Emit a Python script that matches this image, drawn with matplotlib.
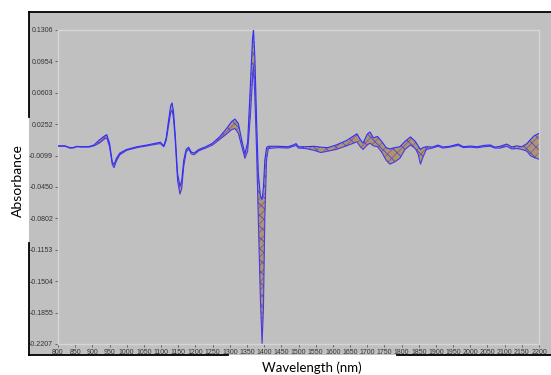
import numpy as np
import matplotlib
matplotlib.use('Agg')
import matplotlib.pyplot as plt
from matplotlib.lines import Line2D
from matplotlib.patches import Rectangle

# longitudes de onda (nm) y envolventes
wavelength = [800, 820, 835, 845, 855, 870, 890, 905, 920, 935, 942, 950, 958, 963, 970,
              980, 1000, 1030, 1060, 1085, 1098, 1108, 1115, 1122, 1128, 1132, 1136, 1141,
              1148, 1155, 1160, 1166, 1173, 1180, 1188, 1196, 1210, 1230, 1250, 1270, 1290,
              1305, 1315, 1325, 1335, 1344, 1352, 1360, 1366, 1369, 1373, 1378, 1383, 1389,
              1394, 1398, 1402, 1407, 1412, 1440, 1470, 1485, 1493, 1500, 1520, 1545, 1565,
              1585, 1610, 1640, 1660, 1670, 1680, 1688, 1700, 1708, 1718, 1730, 1742, 1755,
              1766, 1780, 1795, 1810, 1826, 1840, 1848, 1855, 1862, 1872, 1890, 1906, 1920,
              1940, 1965, 1980, 2000, 2020, 2040, 2058, 2072, 2087, 2106, 2121, 2135, 2150,
              2165, 2175, 2185, 2200]

upper = [0.0010, 0.0010, -0.0010, -0.0008, 0.0004, 0.0000, 0.0002, 0.0020, 0.0075, 0.0120,
         0.0135, 0.0040, -0.0170, -0.0200, -0.0130, -0.0070, -0.0030, 0.0000, 0.0020, 0.0040,
         0.0050, 0.0010, 0.0100, 0.0300, 0.0460, 0.0490, 0.0400, 0.0150, -0.0300, -0.0440,
         -0.0380, -0.0150, -0.0030, -0.0005, -0.0060, -0.0070, -0.0030, 0.0000, 0.0040, 0.0110,
         0.0200, 0.0280, 0.0310, 0.0260, 0.0070, -0.0080, 0.0050, 0.0700, 0.1200, 0.1310,
         0.1000, 0.0300, -0.0300, -0.0550, -0.0590, -0.0450, -0.0150, -0.0010, 0.0005, 0.0005,
         0.0000, 0.0020, 0.0035, 0.0000, 0.0000, 0.0005, -0.0005, -0.0010, 0.0020, 0.0070,
         0.0120, 0.0145, 0.0080, 0.0040, 0.0140, 0.0165, 0.0100, 0.0115, 0.0060, -0.0010,
         -0.0025, -0.0010, 0.0000, 0.0060, 0.0110, 0.0060, 0.0010, -0.0030, -0.0010, 0.0000,
         -0.0003, 0.0019, -0.0003, 0.0005, 0.0030, 0.0000, 0.0008, 0.0000, 0.0015, 0.0020,
         -0.0005, 0.0005, 0.0030, -0.0003, 0.0010, 0.0000, 0.0035, 0.0080, 0.0120, 0.0150]

lower = [0.0006, 0.0006, -0.0016, -0.0014, 0.0000, -0.0004, -0.0004, 0.0010, 0.0040, 0.0085,
         0.0100, 0.0000, -0.0200, -0.0235, -0.0160, -0.0090, -0.0040, -0.0010, 0.0010, 0.0028,
         0.0035, 0.0000, 0.0070, 0.0240, 0.0380, 0.0410, 0.0320, 0.0080, -0.0380, -0.0530,
         -0.0470, -0.0220, -0.0060, -0.0025, -0.0080, -0.0090, -0.0045, -0.0015, 0.0020, 0.0080,
         0.0140, 0.0190, 0.0205, 0.0150, 0.0000, -0.0130, -0.0050, 0.0350, 0.0750, 0.0900,
         0.0550, -0.0050, -0.0800, -0.1700, -0.2200, -0.1800, -0.0800, -0.0150, -0.0020, -0.0010,
         -0.0015, 0.0005, 0.0015, -0.0015, -0.0020, -0.0040, -0.0065, -0.0050, -0.0030, 0.0010,
         0.0040, 0.0055, 0.0000, -0.0030, 0.0020, 0.0040, 0.0010, 0.0000, -0.0060, -0.0150,
         -0.0195, -0.0170, -0.0130, -0.0030, 0.0020, -0.0020, -0.0080, -0.0195, -0.0120, -0.0030,
         -0.0015, 0.0005, -0.0015, -0.0005, 0.0015, -0.0010, -0.0005, -0.0012, 0.0000, 0.0005,
         -0.0015, -0.0015, 0.0005, -0.0025, -0.0020, -0.0030, -0.0050, -0.0100, -0.0120, -0.0140]

y_ticks = [0.1306, 0.0954, 0.0603, 0.0252, -0.0099, -0.0450, -0.0802, -0.1153, -0.1504, -0.1855, -0.2207]
y_tick_labels = ['0.1306', '0.0954', '0.0603', '0.0252', '-0.0099', '-0.0450', '-0.0802',
                 '-0.1153', '-0.1504', '-0.1855', '-0.2207']
x_ticks = list(range(800, 2201, 50))

W, H = 551, 375

def fx(px):
    return px / W

def fy(py):
    return 1 - py / H

plt.rcParams['font.family'] = ['Liberation Sans', 'DejaVu Sans']
plt.rcParams['hatch.linewidth'] = 0.5

fig = plt.figure(figsize=(W / 100, H / 100), dpi=100)
fig.patch.set_facecolor('white')

# panel gris del software
fig.patches.append(Rectangle((fx(29), fy(355)), fx(551) - fx(29), fy(12) - fy(355),
                             transform=fig.transFigure, facecolor='#c0c0c0',
                             edgecolor='none', zorder=-2))
# borde negro con huecos donde van las etiquetas
for (x0, y0, x1, y1) in [(29, 12, 551, 12), (29, 12, 29, 117), (29, 243, 29, 355),
                         (29, 355, 228, 355), (397, 355, 551, 355)]:
    fig.lines.append(Line2D([fx(x0), fx(x1)], [fy(y0), fy(y1)], transform=fig.transFigure,
                            color='black', linewidth=1.3, zorder=-1))

ax = fig.add_axes([fx(58), fy(344), fx(539) - fx(58), fy(30) - fy(344)])
ax.set_zorder(2)
ax.set_facecolor('#c0c0c0')

# banda de todos los espectros (textura de colores mezclados)
ax.fill_between(wavelength, lower, upper, facecolor='#a39a74', edgecolor='#c0309a',
                hatch='////', linewidth=0, zorder=2)
ax.fill_between(wavelength, lower, upper, facecolor='none', edgecolor='#3a3ad8',
                hatch='\\\\\\', linewidth=0, zorder=2)
ax.plot(wavelength, lower, color='#4a3ae0', linewidth=0.8, zorder=3)
ax.plot(wavelength, upper, color='#2f2fff', linewidth=0.8, zorder=4)

ax.set_xlim(800, 2200)
ax.set_ylim(-0.2207, 0.1306)
ax.set_xticks(x_ticks)
ax.set_xticklabels([str(t) for t in x_ticks])
ax.set_yticks(y_ticks)
ax.set_yticklabels(y_tick_labels)
ax.tick_params(direction='out', length=2, width=0.6, color='#555555',
               labelsize=5, labelcolor='#333333', pad=1.5)
for s in ax.spines.values():
    s.set_color('#d6d6d6')
    s.set_linewidth(1.0)

fig.text(fx(312), fy(368), 'Wavelength (nm)', ha='center', va='center',
         fontsize=9.5, family=['Lato', 'DejaVu Sans'], color='black')
fig.text(fx(18), fy(181), 'Absorbance', ha='center', va='center', rotation=90,
         fontsize=10, family=['Lato', 'DejaVu Sans'], color='black')

fig.savefig('out.png', dpi=100)
